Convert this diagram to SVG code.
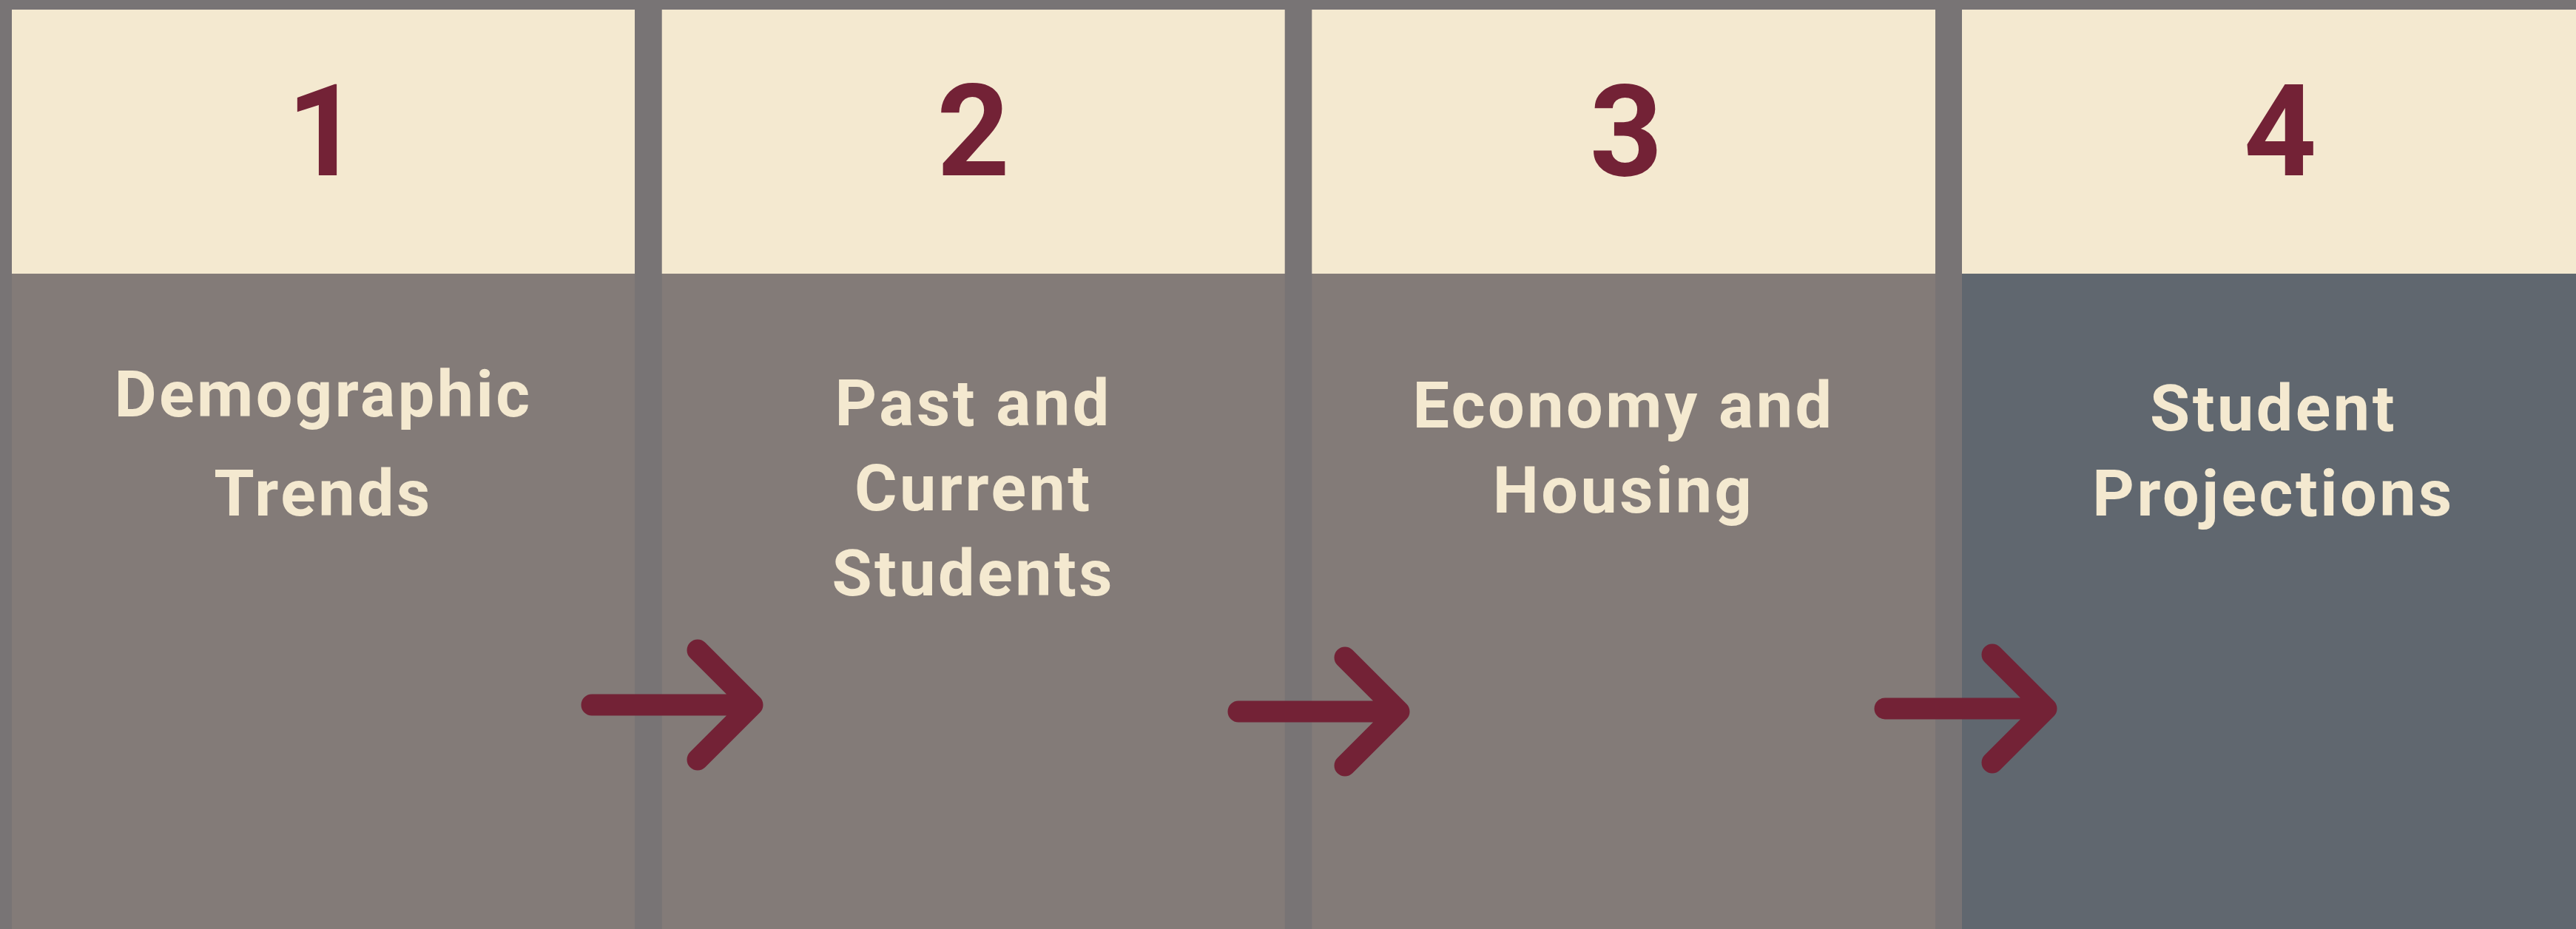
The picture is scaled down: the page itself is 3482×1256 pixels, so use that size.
<svg xmlns="http://www.w3.org/2000/svg" width="3482" height="1256" viewBox="0 0 3482 1256">
<style>
.hdr{fill:#F4E9D0}
.body{fill:#837B78}
.body4{fill:#60676F}
.num{font-family:Roboto,"Liberation Sans",sans-serif;font-weight:700;font-size:172px;fill:#732236;text-anchor:middle}
.lbl{font-family:Roboto,"Liberation Sans",sans-serif;font-weight:700;font-size:88px;fill:#F4E9D0;text-anchor:middle;letter-spacing:3.5px}
.arrow{fill:none;stroke:#732236;stroke-width:29;stroke-linecap:round;stroke-linejoin:round}
</style>
<rect x="0" y="0" width="3482" height="1256" fill="#787475"/>
<g id="node1">
<rect class="hdr" x="16" y="13" width="842" height="357"/>
<rect class="body" x="16" y="370" width="842" height="886"/>
<text class="num" x="437" y="237">1</text>
<text class="lbl" x="437" y="563">Demographic</text>
<text class="lbl" x="437" y="697">Trends</text>
</g>
<g id="node2">
<rect class="hdr" x="894.7" y="13" width="842" height="357"/>
<rect class="body" x="894.7" y="370" width="842" height="886"/>
<text class="num" x="1315.7" y="237">2</text>
<text class="lbl" x="1315.7" y="575">Past and</text>
<text class="lbl" x="1315.7" y="690">Current</text>
<text class="lbl" x="1315.7" y="805">Students</text>
</g>
<g id="node3">
<rect class="hdr" x="1773.3" y="13" width="842.7" height="357"/>
<rect class="body" x="1773.3" y="370" width="842.7" height="886"/>
<text class="num" x="2198" y="237">3</text>
<text class="lbl" x="2194.5" y="578">Economy and</text>
<text class="lbl" x="2194.5" y="693">Housing</text>
</g>
<g id="node4">
<rect class="hdr" x="2652" y="13" width="830" height="357"/>
<rect class="body4" x="2652" y="370" width="830" height="886"/>
<text class="num" x="3082" y="237">4</text>
<text class="lbl" x="3073" y="582">Student</text>
<text class="lbl" x="3073" y="697">Projections</text>
</g>
<g id="connectors">
<path class="arrow" d="M800,953 H1017 M943,879 L1017,953 L943,1027"/>
<path class="arrow" d="M1674,962 H1891 M1818,889 L1891,962 L1818,1035"/>
<path class="arrow" d="M2548,958 H2766 M2693,885 L2766,958 L2693,1031"/>
</g>
</svg>
